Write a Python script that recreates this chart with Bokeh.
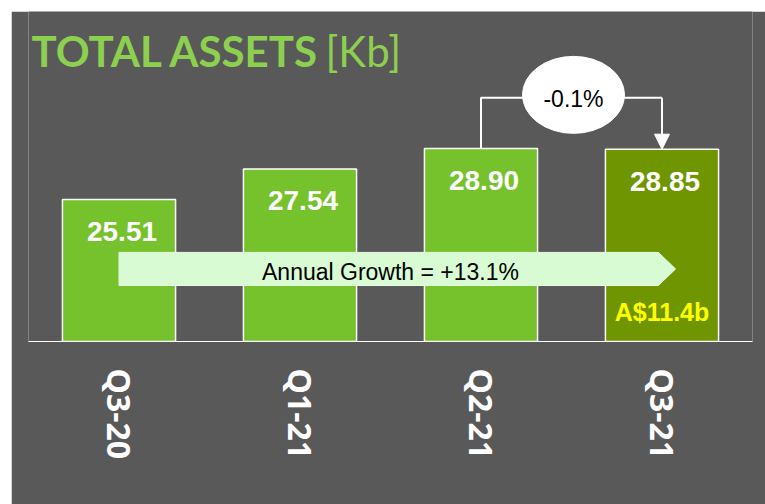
from bokeh.plotting import figure
from bokeh.models import Range1d, FactorRange, ColumnDataSource, Arrow, NormalHead
from bokeh.core.properties import value
from bokeh.embed import file_html
from bokeh.resources import INLINE

# ---- data ----
quarters = ["Q3-20", "Q1-21", "Q2-21", "Q3-21"]
assets = [25.51, 27.54, 28.90, 28.85]
value_labels = ["25.51", "27.54", "28.90", "28.85"]
bar_colors = ["#76C22D", "#76C22D", "#76C22D", "#6F9600"]
title_main = "TOTAL ASSETS"
title_unit = "[Kb]"
annual_growth_text = "Annual Growth = +13.1%"
qoq_text = "-0.1%"
latest_aud_text = "A$11.4b"

y_floor = 16.07
y_top = 38.0

BG = "#595959"
SANS = "Liberation Sans"

p = figure(x_range=FactorRange(*quarters, range_padding=0),
           y_range=Range1d(y_floor, y_top),
           width=754, height=493, output_backend="svg", toolbar_location=None,
           y_axis_location=None,
           min_border_left=17, min_border_right=13, min_border_top=0, min_border_bottom=163,
           background_fill_color=BG, border_fill_color=BG, outline_line_color=None,
           margin=(11, 0, 0, 11))
p.grid.visible = False

src = ColumnDataSource(dict(q=quarters, v=assets, lbl=value_labels, c=bar_colors))

p.vbar(x="q", top="v", bottom=y_floor, width=0.625, fill_color="c",
       line_color="white", line_width=1.5, source=src)

# value labels
p.text(x="q", y="v", text="lbl", source=src, text_font=value(SANS),
       text_font_style="bold", text_font_size="28px", text_color="white",
       text_align="center", text_baseline="alphabetic", x_offset=3, y_offset=32)

# annual growth arrow (from first bar centre to last bar centre)
n = len(quarters)
x0 = 0.5
x1 = n - 0.5 - 0.02
xt = n - 0.5 + 0.075
band_hi, band_lo = 21.99, 19.79
band_mid = (band_hi + band_lo) / 2
p.patch(x=[x0, x1, xt, x1, x0], y=[band_hi, band_hi, band_mid, band_lo, band_lo],
        fill_color="#D9FBD3", line_color="#E6FDE2", line_width=1)
p.text(x=[n / 2], y=[band_mid], text=[annual_growth_text], text_font=value(SANS),
       text_font_size="23px", text_color="black", text_align="center",
       text_baseline="alphabetic", y_offset=3)

# quarter-on-quarter connector
conn_y = 32.26
p.line(x=[n - 1.5, n - 1.5, n - 0.5], y=[assets[2], conn_y, conn_y],
       line_color="white", line_width=2)
p.add_layout(Arrow(end=NormalHead(size=15, fill_color="white", line_color="white"),
                   x_start=n - 0.5, y_start=conn_y, x_end=n - 0.5, y_end=assets[3],
                   line_color="white", line_width=2))
ell_x = n - 0.989
ell_y = 32.46
p.ellipse(x=[ell_x], y=[ell_y], width=102, height=77, width_units="screen",
          height_units="screen", fill_color="white", line_color="white")
p.text(x=[ell_x], y=[ell_y], text=[qoq_text], text_font=value(SANS),
       text_font_size="23px", text_color="black", text_align="center",
       text_baseline="alphabetic", y_offset=4)

# A$ label in last bar
p.text(x=[quarters[-1]], y=[y_floor], text=[latest_aud_text], text_font=value(SANS),
       text_font_style="bold", text_font_size="25px", text_color="#FFFF00",
       text_align="center", text_baseline="alphabetic", y_offset=-30)

# title
p.text(x=[0], y=[y_top], text=[title_main], text_font=value("Lato"),
       text_font_style="bold", text_font_size="42px", text_color="#8DCF4F",
       text_align="left", text_baseline="alphabetic", x_offset=3, y_offset=39)
p.text(x=[0], y=[y_top], text=[title_unit], text_font=value("Lato"),
       text_font_size="42px", text_color="#8DCF4F",
       text_align="left", text_baseline="alphabetic", x_offset=297, y_offset=39)

# x axis
ax = p.xaxis[0]
ax.axis_line_color = "white"
ax.axis_line_width = 1
ax.major_tick_line_color = None
ax.major_tick_in = 0
ax.major_tick_out = 0
ax.major_label_orientation = "vertical"
ax.major_label_standoff = 27
ax.major_label_text_font = "Open Sans"
ax.major_label_text_font_style = "bold"
ax.major_label_text_font_size = "32px"
ax.major_label_text_color = "white"

open("out.html", "w").write(file_html(p, INLINE))
